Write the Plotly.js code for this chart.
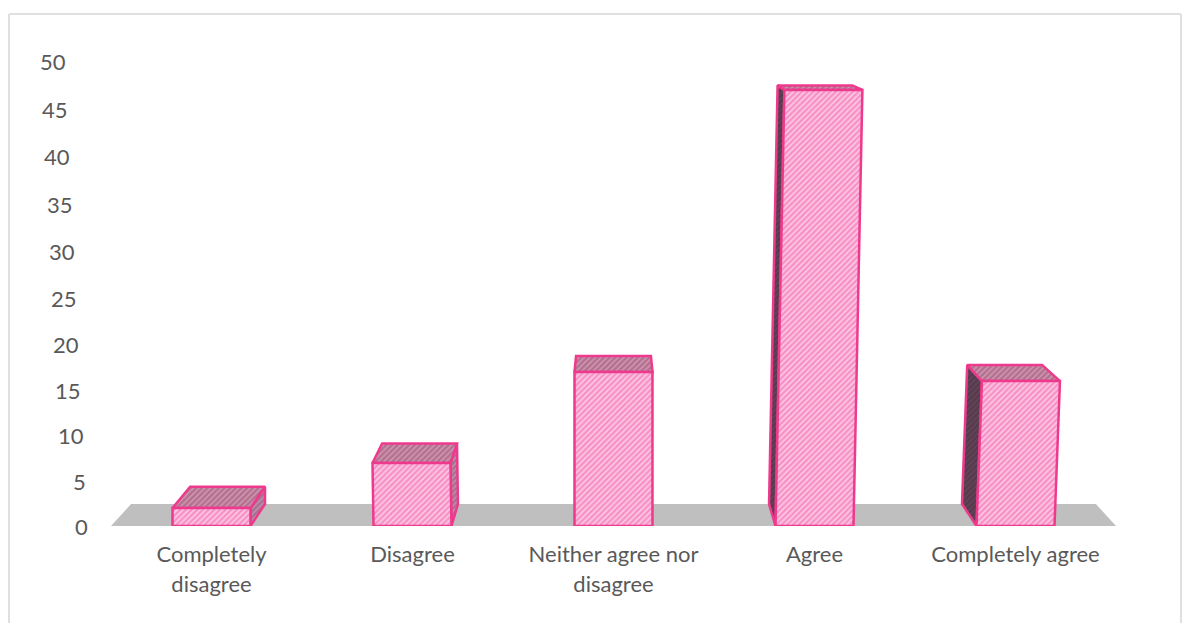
<!DOCTYPE html>
<html>
<head>
<meta charset="utf-8">
<script src="https://cdn.plot.ly/plotly-3.0.1.min.js"></script>
<style>html,body{margin:0;padding:0;background:#fff}</style>
</head>
<body>
<div id="chart" style="width:1187px;height:623px"></div>
<script>
// Data
const categories = ["Completely disagree", "Disagree", "Neither agree nor disagree", "Agree", "Completely agree"];
const categoryLabels = ["Completely<br>disagree", "Disagree", "Neither agree nor<br>disagree", "Agree", "Completely agree"];
const values = [2, 7, 17, 47, 16];
const yTicks = [0, 5, 10, 15, 20, 25, 30, 35, 40, 45, 50];

// Simulated 3D view of the original chart
const M = {l: 111, r: 71, t: 50, b: 97};
const plotW = 1187 - M.l - M.r, plotH = 623 - M.t - M.b;
const xRange = [-0.5, 4.5], yRange = [0, plotH / 9.3];
const VP_X = 2, VP_U = 59.14, DEPTH = 0.04, HALF = 0.194;
const lean = [0, -0.15, 0, 0.19, 0.35].map(p => p / 201); // category units per y unit
const persp = v => 0.962 * v / (1 - 0.00076 * v);
const proj = (x, u, d) => [VP_X + (x - VP_X) * (1 - DEPTH * d), VP_U + (u - VP_U) * (1 - DEPTH * d)];

const PINK = "#EE3A8C";
function face(pts, bg, fg, line, solidity) {
  const closed = pts.concat([pts[0]]);
  const t = {
    x: closed.map(p => p[0]), y: closed.map(p => p[1]),
    type: "scatter", mode: "lines", fill: "toself", hoverinfo: "skip", showlegend: false,
    line: {color: line || "rgba(0,0,0,0)", width: line ? 2.5 : 0},
    fillcolor: bg
  };
  if (fg) t.fillpattern = {shape: "/", size: 4, solidity: solidity || 0.35, fgcolor: fg, bgcolor: bg, fillmode: "replace"};
  return t;
}

const traces = [];
// floor
traces.push(face([proj(-0.5, 0, 0), proj(4.5, 0, 0), proj(4.5, 0, 1), proj(-0.5, 0, 1)], "#BFBFBF"));

values.forEach((v, i) => {
  const u = persp(v), L = i - HALF, R = i + HALF, s = lean[i] * u;
  const fBL = [L, 0], fBR = [R, 0], fTL = [L + s, u], fTR = [R + s, u];
  const bBL = proj(L, 0, 1), bBR = proj(R, 0, 1), bTL = proj(L + s, u, 1), bTR = proj(R + s, u, 1);
  // side face visible on the side facing the centre of the view
  if (i < 2) traces.push(face([fBR, fTR, bTR, bBR], "#A9708F", "#C195AD", PINK));
  if (i > 2) traces.push(face([fBL, fTL, bTL, bBL], "#573A4D", "#64485A", PINK));
  // top
  traces.push(face([fTL, fTR, bTR, bTL], "#B5708F", "#CF9DB6", PINK));
  // front
  traces.push(Object.assign(face([fBL, fBR, fTR, fTL], "#F88FC6", "#FCCBE4", PINK, 0.42), {name: categories[i]}));
});

const FONT = "Lato, 'Open Sans', sans-serif";
const layout = {
  width: 1187, height: 623, autosize: false,
  margin: M, paper_bgcolor: "#fff", plot_bgcolor: "#fff",
  showlegend: false,
  xaxis: {
    range: xRange, showgrid: false, zeroline: false, showline: false, ticks: "",
    tickmode: "array", tickvals: categories.map((c, i) => i),
    ticktext: categoryLabels.map(t => '<span style="font-size:22px">' + t.replace("<br>", '</span><br><span style="font-size:22px">') + "</span>"),
    tickangle: 0, ticklabelstandoff: 12,
    tickfont: {family: FONT, size: 23, color: "#595959"}
  },
  yaxis: {range: yRange, showgrid: false, zeroline: false, showline: false, ticks: "", showticklabels: false},
  annotations: yTicks.map(t => ({
    xref: "paper", yref: "y", x: (88 - 22 * t / 50 - M.l) / plotW, y: persp(t),
    text: String(t), showarrow: false, xanchor: "right", yanchor: "middle", xshift: 0,
    borderpad: 0, borderwidth: 0,
    font: {family: FONT, size: 22, color: "#595959"}
  })),
  shapes: [
    [9, 14, 9, 623], [9, 14, 1181, 14], [1181, 14, 1181, 623]
  ].map(p => ({
    type: "line", xref: "paper", yref: "paper",
    x0: (p[0] - M.l) / plotW, x1: (p[2] - M.l) / plotW,
    y0: (623 - M.b - p[1]) / plotH, y1: (623 - M.b - p[3]) / plotH,
    line: {color: "#E0E0E0", width: 2}
  }))
};
Plotly.newPlot("chart", traces, layout, {displayModeBar: false, staticPlot: true});
</script>
</body>
</html>
